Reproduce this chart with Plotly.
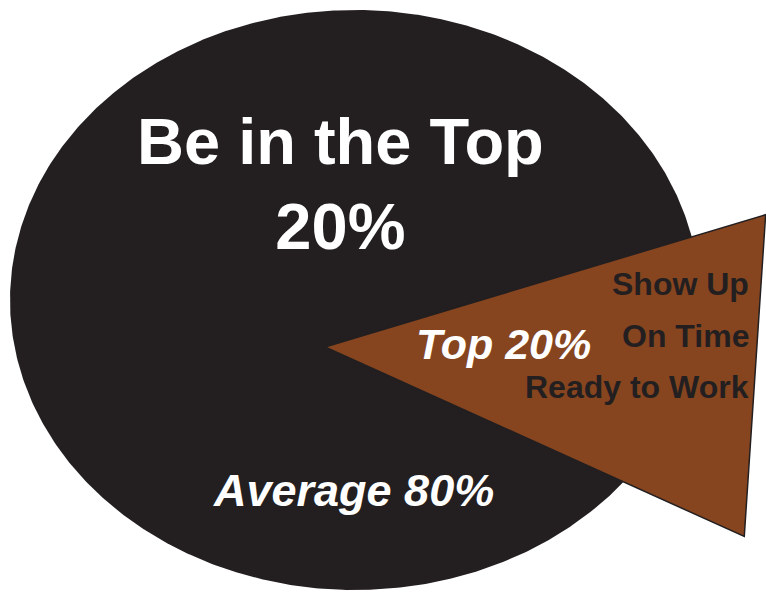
import numpy as np
import plotly.graph_objects as go

# ---- data ----
labels = ["Average 80%", "Top 20%"]
values = [80, 20]
title_text = "Be in the Top<br>20%"
top_notes = ["Show Up", "On Time", "Ready to Work"]

colors = ["#231F20", "#86451F"]

W, H = 766, 592

# geometry (screen px units; y axis reversed)
ell_cx, ell_cy, ell_rx, ell_ry = 355, 300, 345, 290
apex_x, apex_y = 325, 347          # pulled-out vertex of the top slice
pull_dir = np.radians(-3.8)         # direction of the pulled slice (y-up sense)
squash = 0.515                      # perspective squash across the slice
reach = 430.9                       # length along the slice axis

share = values[1] / sum(values)
half = np.radians(share * 360 / 2)

def to_screen(u, v):
    x = u * np.cos(pull_dir) - v * np.sin(pull_dir)
    y = u * np.sin(pull_dir) + v * np.cos(pull_dir)
    return apex_x + x, apex_y - y

L = reach / np.cos(half)
ux = L * np.cos(half)
vy = L * np.sin(half) * squash
p_up = to_screen(ux, vy)
p_lo = to_screen(ux, -vy)

top_x = [apex_x, p_up[0], p_lo[0], apex_x]
top_y = [apex_y, p_up[1], p_lo[1], apex_y]

t = np.linspace(0, 2 * np.pi, 721)
ex = ell_cx + ell_rx * np.cos(t)
ey = ell_cy + ell_ry * np.sin(t)

fig = go.Figure()
fig.add_trace(go.Scatter(x=ex, y=ey, fill="toself", mode="lines",
                         line=dict(color=colors[0], width=0),
                         fillcolor=colors[0], hoverinfo="skip",
                         name=labels[0]))
fig.add_trace(go.Scatter(x=top_x, y=top_y, fill="toself", mode="lines",
                         line=dict(color=colors[0], width=1.5),
                         fillcolor=colors[1], hoverinfo="skip",
                         name=labels[1]))

font = "Liberation Sans, Arial, sans-serif"
fig.add_annotation(x=340, y=184, text="<b>" + title_text + "</b>", showarrow=False,
                   font=dict(family=font, size=65, color="white"),
                   xanchor="center", yanchor="middle", align="center")
fig.add_annotation(x=353, y=490, text="<b><i>" + labels[0] + "</i></b>", showarrow=False,
                   font=dict(family=font, size=45, color="white"),
                   xanchor="center", yanchor="middle")
fig.add_annotation(x=503, y=344, text="<b><i>" + labels[1] + "</i></b>", showarrow=False,
                   font=dict(family=font, size=43, color="white"),
                   xanchor="center", yanchor="middle")
for i, note in enumerate(top_notes):
    fig.add_annotation(x=751, y=284 + 51.5 * i, text="<b>" + note + "</b>", showarrow=False,
                       font=dict(family=font, size=32, color=colors[0]),
                       xanchor="right", yanchor="middle")

fig.update_xaxes(range=[0, W], visible=False, fixedrange=True)
fig.update_yaxes(range=[H, 0], visible=False, fixedrange=True)
fig.update_layout(width=W, height=H, margin=dict(l=0, r=0, t=0, b=0),
                  paper_bgcolor="white", plot_bgcolor="white", showlegend=False)

fig.write_html("out.html", config={"displayModeBar": False})
